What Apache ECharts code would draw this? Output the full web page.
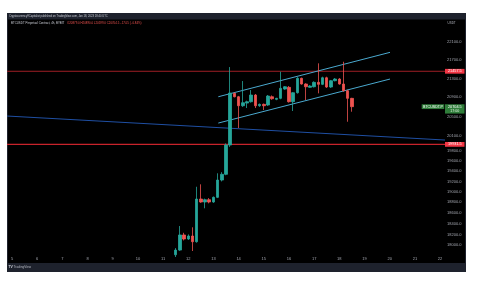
<!DOCTYPE html>
<html><head><meta charset="utf-8">
<script src="https://cdn.jsdelivr.net/npm/echarts@6/dist/echarts.min.js"></script>
<style>html,body{margin:0;padding:0;background:#fff;}#c{width:479px;height:284px;}</style>
</head><body><div id="c"></div>
<script>
// ---- data (4h candles, January) ----
const candleTimes = [
 'Jan 11 12:00','Jan 11 16:00','Jan 11 20:00',
 'Jan 12 00:00','Jan 12 04:00','Jan 12 08:00','Jan 12 12:00','Jan 12 16:00','Jan 12 20:00',
 'Jan 13 00:00','Jan 13 04:00','Jan 13 08:00','Jan 13 12:00','Jan 13 16:00','Jan 13 20:00',
 'Jan 14 00:00','Jan 14 04:00','Jan 14 08:00','Jan 14 12:00','Jan 14 16:00','Jan 14 20:00',
 'Jan 15 00:00','Jan 15 04:00','Jan 15 08:00','Jan 15 12:00','Jan 15 16:00','Jan 15 20:00',
 'Jan 16 00:00','Jan 16 04:00','Jan 16 08:00','Jan 16 12:00','Jan 16 16:00','Jan 16 20:00',
 'Jan 17 00:00','Jan 17 04:00','Jan 17 08:00','Jan 17 12:00','Jan 17 16:00','Jan 17 20:00',
 'Jan 18 00:00','Jan 18 04:00','Jan 18 08:00','Jan 18 12:00'];
const openPrices = [
 17830,17915,18190,
 18116,18171,18066,18862,18805,18849,
 18805,18894,19227,19338,19918,20985,
 20913,20724,20780,20808,20949,20724,
 20753,20739,20913,20858,20879,21076,
 21112,20808,20998,21305,21183,21112,
 21125,21219,21176,21318,21119,21254,
 21290,21183,21040,20879];
const highPrices = [
 17950,18355,18230,
 18200,18331,19097,19144,18870,18880,
 18910,19358,19380,19950,21549,21000,
 20930,21247,20830,21055,20970,20770,
 20770,20950,20940,20890,21447,21140,
 21140,21010,21330,21320,21200,21160,
 21240,21630,21340,21340,21270,21310,
 21310,21665,21060,20890];
const lowPrices = [
 17790,17900,18090,
 18100,17898,18050,18790,18686,18780,
 18790,18880,19200,19320,19880,20900,
 20263,20700,20676,20790,20676,20700,
 20634,20720,20850,20840,20860,21060,
 20790,20614,20980,21170,20844,21100,
 21110,20985,21160,21100,21100,21240,
 21170,21020,20392,20599];
const closePrices = [
 17915,18190,18116,
 18171,18066,18862,18805,18849,18805,
 18894,19227,19338,19918,20991,20913,
 20724,20787,20808,20949,20724,20753,
 20724,20928,20871,20879,21091,21125,
 20808,20998,21305,21183,21125,21140,
 21219,21176,21318,21119,21254,21290,
 21183,21040,20879,20704.5];
const dayTicks = [5,6,7,8,9,10,11,12,13,14,15,16,17,18,19,20,21,22];
const priceTicks = [22100,21700,21300,20900,20500,20100,19800,19600,19400,19200,19000,18800,18600,18400,18200,18000];
const levelPrices = [21457.5, 19931.5];
// drawings: [day, price]
const blueTrend = [[4.8014, 20510], [22.1962, 20019]];
const channelUpper = [[13.193, 20913], [20.012, 21871]];
const channelLower = [[13.193, 20365], [20.012, 21290]];
const countdownText = '17:00';
const symbolText = 'BTCUSDT.P';

// ---- build ----
const X_MIN = 4.8014, X_MAX = 22.1962;
const Y_MIN = Math.log(17826), Y_MAX = Math.log(22597);
const L = Math.log;
const dayOf = s => { const m = s.match(/(\d+) (\d+):(\d+)/); return +m[1] + (+m[2]) / 24 + (+m[3]) / 1440; };
const xs = candleTimes.map(dayOf);
const candleData = xs.map((x, i) => [x, L(openPrices[i]), L(closePrices[i]), L(lowPrices[i]), L(highPrices[i])]);
const n = closePrices.length;
const lastO = openPrices[n-1], lastH = highPrices[n-1], lastL = lowPrices[n-1], lastC = closePrices[n-1];
const chg = lastC - closePrices[n-2];
const pct = chg / closePrices[n-2] * 100;
const sgn = v => (v < 0 ? '\u2212' : '+') + Math.abs(v).toFixed(1);
const ohlcText = 'O' + lastO.toFixed(1) + ' H' + lastH.toFixed(1) + ' L' + lastL.toFixed(1) + ' C' + lastC.toFixed(1) + ' ' + sgn(chg) + ' (' + (pct < 0 ? '\u2212' : '+') + Math.abs(pct).toFixed(2) + '%)';

const FONT = 'Liberation Sans, Arial, sans-serif';
const UP = '#26a69a', DOWN = '#ef5350';

function lineSeries(pts, color, width) {
  return { type: 'line', data: pts.map(p => [p[0], L(p[1])]), symbol: 'none', silent: true,
    lineStyle: { color: color, width: width }, z: 3, animation: false };
}

const labelSeries = {
  type: 'custom', silent: true, clip: false, z: 10, animation: false,
  data: [[X_MAX, L(levelPrices[0]), 0], [X_MAX, L(levelPrices[1]), 0], [X_MAX, L(lastC), 1]],
  renderItem: function (params, api) {
    const pt = api.coord([api.value(0), api.value(1)]);
    const kind = api.value(2);
    const price = Math.exp(api.value(1)).toFixed(1);
    const x = pt[0], y = pt[1];
    const children = [];
    if (kind === 0) {
      children.push({ type: 'rect', shape: { x: x, y: y - 2.4, width: 19.5, height: 4.8 }, style: { fill: '#f23645' } });
      children.push({ type: 'text', style: { x: x + 9.8, y: y, text: price, fill: '#ffffff', font: '3.8px ' + FONT, align: 'center', verticalAlign: 'middle' } });
    } else {
      children.push({ type: 'rect', shape: { x: x, y: y - 2.4, width: 19.5, height: 9.3 }, style: { fill: '#2f7d3a' } });
      children.push({ type: 'text', style: { x: x + 9.8, y: y, text: price, fill: '#ffffff', font: '3.8px ' + FONT, align: 'center', verticalAlign: 'middle' } });
      children.push({ type: 'text', style: { x: x + 9.8, y: y + 4.4, text: countdownText, fill: '#e0f0e0', font: '3.6px ' + FONT, align: 'center', verticalAlign: 'middle' } });
      children.push({ type: 'rect', shape: { x: x - 23.3, y: y - 2.4, width: 22.5, height: 4.8 }, style: { fill: '#2f7d3a' } });
      children.push({ type: 'text', style: { x: x - 12, y: y, text: symbolText, fill: '#ffffff', font: '3.6px ' + FONT, align: 'center', verticalAlign: 'middle' } });
    }
    return { type: 'group', children: children };
  }
};

const option = {
  animation: false,
  backgroundColor: '#ffffff',
  grid: { left: 7, top: 20, width: 438, height: 235, containLabel: false },
  xAxis: {
    type: 'value', min: X_MIN, max: X_MAX,
    axisLine: { show: false }, axisTick: { show: false }, splitLine: { show: false },
    axisLabel: { customValues: dayTicks, formatter: v => String(Math.round(v)), color: '#a3a6af', fontSize: 4, fontFamily: FONT, margin: 2 }
  },
  yAxis: {
    type: 'value', position: 'right', min: Y_MIN, max: Y_MAX, scale: true,
    axisLine: { show: false }, axisTick: { show: false }, splitLine: { show: false },
    axisLabel: { customValues: priceTicks.map(L), formatter: v => Math.exp(v).toFixed(1), color: '#a3a6af', fontSize: 4, fontFamily: FONT, margin: 2, align: 'left' }
  },
  graphic: [
    { type: 'rect', z: -100, silent: true, shape: { x: 7, y: 13, width: 459, height: 259 }, style: { fill: '#000000' } },
    { type: 'rect', z: -99, silent: true, shape: { x: 7, y: 13, width: 459, height: 6.5 }, style: { fill: '#1e222d' } },
    { type: 'rect', z: -99, silent: true, shape: { x: 7, y: 263, width: 459, height: 9 }, style: { fill: '#1e222d' } },
    { type: 'rect', z: -99, silent: true, shape: { x: 7, y: 19, width: 1, height: 244 }, style: { fill: '#1e222d' } },
    { type: 'rect', z: -99, silent: true, shape: { x: 465, y: 19, width: 1, height: 244 }, style: { fill: '#1e222d' } },
    { type: 'text', z: 100, silent: true, style: { x: 9, y: 16.2, text: 'Cryptocurrency9Capitalist published on TradingView.com, Jan 18, 2023 18:40 UTC', fill: '#c9ccd4', font: '2.7px ' + FONT, verticalAlign: 'middle' } },
    { type: 'text', z: 100, silent: true, style: { x: 11, y: 23.5, text: 'BTCUSDT Perpetual Contract, 4h, BYBIT', fill: '#c9ccd4', font: '2.9px ' + FONT, verticalAlign: 'middle' } },
    { type: 'text', z: 100, silent: true, style: { x: 67, y: 23.5, text: ohlcText, fill: '#ef5350', font: '2.9px ' + FONT, verticalAlign: 'middle' } },
    { type: 'text', z: 100, silent: true, style: { x: 447.5, y: 23.5, text: 'USDT', fill: '#b2b5be', font: '3px ' + FONT, verticalAlign: 'middle' } },
    { type: 'text', z: 100, silent: true, style: { x: 8.5, y: 267.5, text: 'TV', fill: '#d1d4dc', font: 'bold 3.4px ' + FONT, verticalAlign: 'middle' } },
    { type: 'text', z: 100, silent: true, style: { x: 13.5, y: 267.5, text: 'TradingView', fill: '#b2b5be', font: '3.2px ' + FONT, verticalAlign: 'middle' } }
  ],
  series: [
    lineSeries(blueTrend, '#1f4fa3', 1),
    lineSeries([[X_MIN, levelPrices[0]], [X_MAX, levelPrices[0]]], '#9e1f25', 1),
    lineSeries([[X_MIN, levelPrices[1]], [X_MAX, levelPrices[1]]], '#c8232b', 1.3),
    lineSeries(channelUpper, '#4aa9cf', 1),
    lineSeries(channelLower, '#4aa9cf', 1),
    {
      type: 'candlestick', data: candleData, encode: { x: 0, y: [1, 2, 3, 4] },
      barWidth: 3, z: 5, silent: true, animation: false,
      itemStyle: { color: UP, color0: DOWN, borderColor: UP, borderColor0: DOWN, borderWidth: 0.8 }
    },
    labelSeries
  ]
};
const chart = echarts.init(document.getElementById('c'));
chart.setOption(option);
</script></body></html>
